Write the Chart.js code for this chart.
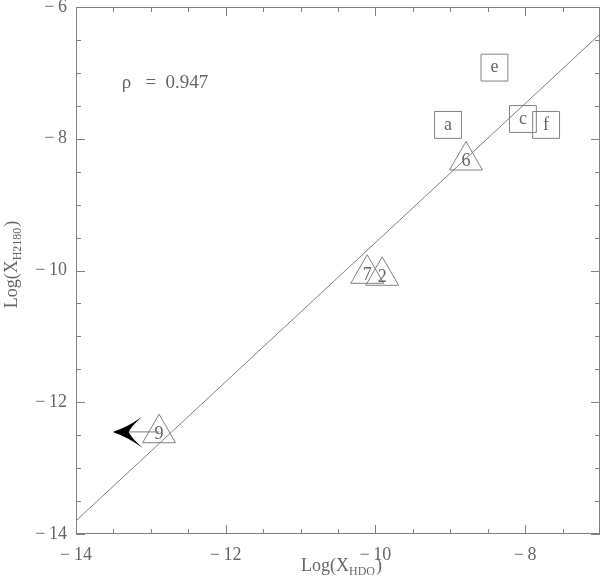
<!DOCTYPE html>
<html>
<head>
<meta charset="utf-8">
<script src="https://cdn.jsdelivr.net/npm/chart.js@4.4.0/dist/chart.umd.min.js"></script>
<style>
html,body{margin:0;padding:0;background:#fff;}
#wrap{width:600px;height:577px;position:relative;}
</style>
</head>
<body>
<div id="wrap"><canvas id="c" width="600" height="577"></canvas></div>
<script>
// ---- data ----
const squareX = [-9.03, -8.41, -8.03, -7.72];
const squareY = [-7.79, -6.92, -7.70, -7.79];
const squareLabels = ['a', 'e', 'c', 'f'];

const triX = [-8.79, -10.11, -9.91, -12.89];
const triY = [-8.33, -10.05, -10.08, -12.47];
const triLabels = ['6', '7', '2', '9'];

const fitX = [-14, -7];
const fitY = [-13.80, -6.41];

// upper-limit arrow: from source 9 toward lower X
const limitFromX = -12.89, limitToX = -13.51, limitY = -12.45;

const rhoText = 'ρ   =  0.947';
const rhoPos = [-13.39, -7.23];

const xRange = [-14, -7];
const yRange = [-14, -6];
const tickStep = 0.5;
const labelStep = 2;

const TXT = '#666';
const LINE = '#808080';
const FONT = '"Liberation Serif", "DejaVu Serif", serif';

function pts(xs, ys) { return xs.map((x, i) => ({ x: x, y: ys[i] })); }
function fmt(v) {
  if (Math.abs(v / labelStep - Math.round(v / labelStep)) > 1e-6) return '';
  return (v < 0 ? '\u2212\u2009' : '') + Math.abs(v);
}
function noPad(s) { s.paddingTop = 0; s.paddingBottom = 0; s.paddingLeft = 0; s.paddingRight = 0; }

const framePlugin = {
  id: 'frame',
  afterDraw(chart) {
    const ctx = chart.ctx, a = chart.chartArea;
    const xs = chart.scales.x, ys = chart.scales.y;
    ctx.save();
    ctx.strokeStyle = LINE;
    ctx.lineWidth = 1;
    ctx.strokeRect(a.left + 0.5, a.top + 0.5, a.right - a.left - 1, a.bottom - a.top - 1);
    ctx.beginPath();
    xs.ticks.forEach(t => {
      const p = Math.round(xs.getPixelForValue(t.value)) + 0.5;
      const L = fmt(t.value) !== '' ? 9 : 5;
      ctx.moveTo(p, a.bottom); ctx.lineTo(p, a.bottom - L);
      ctx.moveTo(p, a.top); ctx.lineTo(p, a.top + L);
    });
    ys.ticks.forEach(t => {
      const p = Math.round(ys.getPixelForValue(t.value)) + 0.5;
      const L = fmt(t.value) !== '' ? 9 : 5;
      ctx.moveTo(a.left, p); ctx.lineTo(a.left + L, p);
      ctx.moveTo(a.right, p); ctx.lineTo(a.right - L, p);
    });
    ctx.stroke();

    // point labels
    ctx.fillStyle = TXT;
    ctx.font = '18px ' + FONT;
    ctx.textAlign = 'center';
    ctx.textBaseline = 'middle';
    const sq = chart.getDatasetMeta(1).data, tr = chart.getDatasetMeta(2).data;
    sq.forEach((el, i) => ctx.fillText(squareLabels[i], el.x, el.y));
    tr.forEach((el, i) => ctx.fillText(triLabels[i], el.x, el.y + 1));

    // upper-limit arrow
    const x0 = xs.getPixelForValue(limitFromX), x1 = xs.getPixelForValue(limitToX);
    const yA = ys.getPixelForValue(limitY);
    ctx.beginPath();
    ctx.moveTo(x0, yA); ctx.lineTo(x1 + 16, yA);
    ctx.stroke();
    ctx.fillStyle = '#000';
    ctx.beginPath();
    ctx.moveTo(x1, yA);
    ctx.quadraticCurveTo(x1 + 15, yA - 5, x1 + 29, yA - 15);
    ctx.quadraticCurveTo(x1 + 18, yA - 5, x1 + 16, yA);
    ctx.quadraticCurveTo(x1 + 18, yA + 5, x1 + 30, yA + 16);
    ctx.quadraticCurveTo(x1 + 15, yA + 5, x1, yA);
    ctx.fill();

    // correlation text
    ctx.fillStyle = TXT;
    ctx.font = '19px ' + FONT;
    ctx.textAlign = 'left';
    ctx.textBaseline = 'alphabetic';
    ctx.fillText(rhoText, xs.getPixelForValue(rhoPos[0]), ys.getPixelForValue(rhoPos[1]));

    // axis titles with subscripts
    function drawTitle(main, sub, cx, baseY) {
      ctx.font = '18px ' + FONT;
      const w1 = ctx.measureText(main).width, w3 = ctx.measureText(')').width;
      ctx.font = '12px ' + FONT;
      const w2 = ctx.measureText(sub).width;
      const x = cx - (w1 + w2 + w3) / 2;
      ctx.textAlign = 'left';
      ctx.font = '18px ' + FONT;
      ctx.fillText(main, x, baseY);
      ctx.font = '12px ' + FONT;
      ctx.fillText(sub, x + w1, baseY + 4);
      ctx.font = '18px ' + FONT;
      ctx.fillText(')', x + w1 + w2 + 1, baseY);
    }
    drawTitle('Log(X', 'HDO', 341, 571);
    ctx.save();
    ctx.translate(17, 265);
    ctx.rotate(-Math.PI / 2);
    drawTitle('Log(X', 'H2180', 0, 0);
    ctx.restore();
    ctx.restore();
  }
};

new Chart(document.getElementById('c'), {
  type: 'scatter',
  data: {
    datasets: [
      {
        type: 'line', data: pts(fitX, fitY), borderColor: LINE, borderWidth: 1,
        pointRadius: 0, fill: false, tension: 0
      },
      {
        data: pts(squareX, squareY), pointStyle: 'rect', pointRadius: 19,
        borderColor: LINE, backgroundColor: 'rgba(0,0,0,0)', borderWidth: 1
      },
      {
        data: pts(triX, triY), pointStyle: 'triangle', pointRadius: 19,
        borderColor: LINE, backgroundColor: 'rgba(0,0,0,0)', borderWidth: 1
      }
    ]
  },
  options: {
    responsive: false,
    animation: false,
    events: [],
    layout: { autoPadding: false, padding: { top: 7, right: 0, left: 0, bottom: 0 } },
    plugins: { legend: { display: false }, tooltip: { enabled: false } },
    scales: {
      x: {
        type: 'linear', min: xRange[0], max: xRange[1],
        afterFit(s) { s.height = 43; noPad(s); },
        grid: { display: false, drawTicks: false },
        border: { display: false },
        ticks: {
          stepSize: tickStep, autoSkip: false, maxRotation: 0, padding: 10,
          color: TXT, font: { family: FONT, size: 18 }, callback: v => fmt(v)
        }
      },
      y: {
        type: 'linear', min: yRange[0], max: yRange[1],
        afterFit(s) { s.width = 76; noPad(s); },
        grid: { display: false, drawTicks: false },
        border: { display: false },
        ticks: {
          stepSize: tickStep, autoSkip: false, padding: 9,
          color: TXT, font: { family: FONT, size: 18 }, callback: v => fmt(v)
        }
      }
    }
  },
  plugins: [framePlugin]
});
</script>
</body>
</html>
